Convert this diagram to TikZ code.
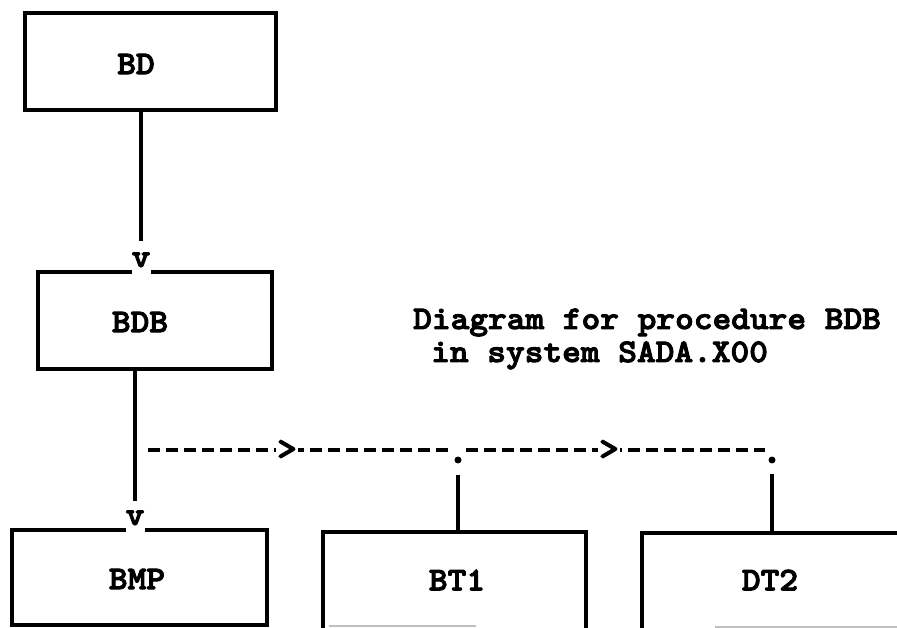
\documentclass[tikz,border=0pt]{standalone}
\usepackage{fontspec}
\newfontfamily\tw{lmmonolt10-bold.otf}[FakeStretch=1.08,FakeBold=3]
\begin{document}
\begin{tikzpicture}[x=1pt,y=-1pt,
  boxline/.style={line width=3.5pt},
  box/.style={draw, line width=3.5pt, inner sep=0pt},
  ghost/.style={inner sep=0pt},
  lbl/.style={font=\tw\fontsize{33}{33}\selectfont, inner sep=0pt},
  vmark/.style={font=\tw\fontsize{33}{33}\selectfont, fill=white, inner sep=0pt,
    minimum width=19pt, text height=14pt, text depth=9pt, anchor=base},
  dashline/.style={line width=3.8pt, dash pattern=on 12pt off 6pt},
  dotmark/.style={circle, fill, inner sep=0pt, minimum size=7pt},
  chev/.style={font=\tw\fontsize{35}{35}\selectfont, fill=white, inner sep=1pt},
  faint/.style={line width=2pt, black!25}]
\useasboundingbox (0,0) rectangle (897,628);

% boxes
\node[box, minimum width=251pt, minimum height=97pt] (BD) at (150.5,61.5) {};
\node[lbl] (BDt) at (136,64) {BD};
\node[box, minimum width=234pt, minimum height=97pt] (BDB) at (155,320.5) {};
\node[lbl] (BDBt) at (140,322) {BDB};
\node[box, minimum width=255pt, minimum height=95pt] (BMP) at (139.5,577.5) {};
\node[lbl] (BMPt) at (137,579) {BMP};
\node[ghost, minimum width=263pt, minimum height=94pt] (BT1) at (454.5,579) {};
\node[lbl] (BT1t) at (457,580) {BT1};
\node[ghost, minimum width=260pt, minimum height=94pt] (DT2) at (772,580) {};
\node[lbl] (DT2t) at (770,580) {DT2};

\draw[boxline] ([yshift=-8pt]BT1.south west) -- (BT1.north west) -- (BT1.north east) -- ([yshift=-8pt]BT1.south east);
\draw[boxline] ([yshift=-8pt]DT2.south west) -- (DT2.north west) -- (DT2.north east);
\draw[faint] ([xshift=6pt]BT1.south west) -- ([xshift=-110pt]BT1.south east);
\draw[faint] ([xshift=73pt]DT2.south west) -- (DT2.south east);

% arrowheads "v"
\node[vmark] (v1) at (141,267) {v};
\node[vmark] (v2) at (135,525) {v};
\draw[boxline, shorten >=12pt] (v1.north |- BD.south) -- (v1.north);
\draw[boxline, shorten >=10pt] (v2.north |- BDB.south) -- (v2.north);

% dashed data flow
\coordinate (ds) at (148,450);
\node[dotmark] (d1) at (458,460) {};
\node[dotmark] (d2) at (772,460) {};
\draw[dashline, shorten >=9pt] (ds) -- (d1 |- ds);
\draw[dashline, shorten <=8pt, shorten >=7pt] (d1 |- ds) -- (d2 |- ds);
\node[chev] (a1) at (287,450) {>};
\node[chev] (a2) at (609,450) {>};
\draw[boxline, shorten <=11pt] (d1) -- (d1 |- BT1.north);
\draw[boxline, shorten <=10pt] (d2) -- (d2 |- DT2.north);

% caption
\node[lbl, anchor=base west, text depth=0pt] (cap1) at (413,329) {Diagram for procedure BDB};
\node[lbl, anchor=base west] (cap2) at (431,362) {in system SADA.X00};
\end{tikzpicture}
\end{document}
